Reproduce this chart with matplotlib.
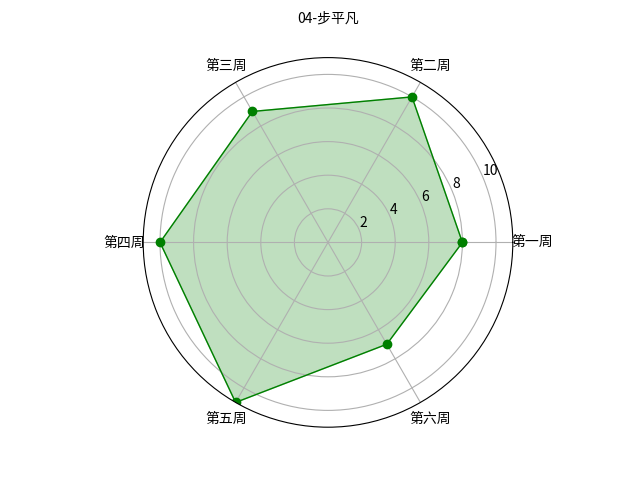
import matplotlib
matplotlib.use('Agg')
import matplotlib.pyplot as plt
import numpy as np

plt.rcParams['font.family'] = ['Noto Sans CJK SC', 'DejaVu Sans']
plt.rcParams['axes.unicode_minus'] = False

# data
labels = ['第一周', '第二周', '第三周', '第四周', '第五周', '第六周']
scores = [8, 10, 9, 10, 11, 7]
title = '04-步平凡'

angles = np.linspace(0, 2 * np.pi, len(labels), endpoint=False)
vals = np.concatenate([scores, scores[:1]])
angs = np.concatenate([angles, angles[:1]])

fig = plt.figure(figsize=(6.4, 4.8), dpi=100)
ax = fig.add_subplot(111, polar=True)

ax.plot(angs, vals, 'o-', color='green', linewidth=1)
ax.fill(angs, vals, color='green', alpha=0.25)

ax.set_thetagrids(angles * 180 / np.pi, labels)
ax.set_ylim(0, max(scores))
ax.set_yticks([2, 4, 6, 8, 10])
ax.set_title(title, fontsize=10, pad=25)
ax.grid(True)

plt.savefig('out.png')
